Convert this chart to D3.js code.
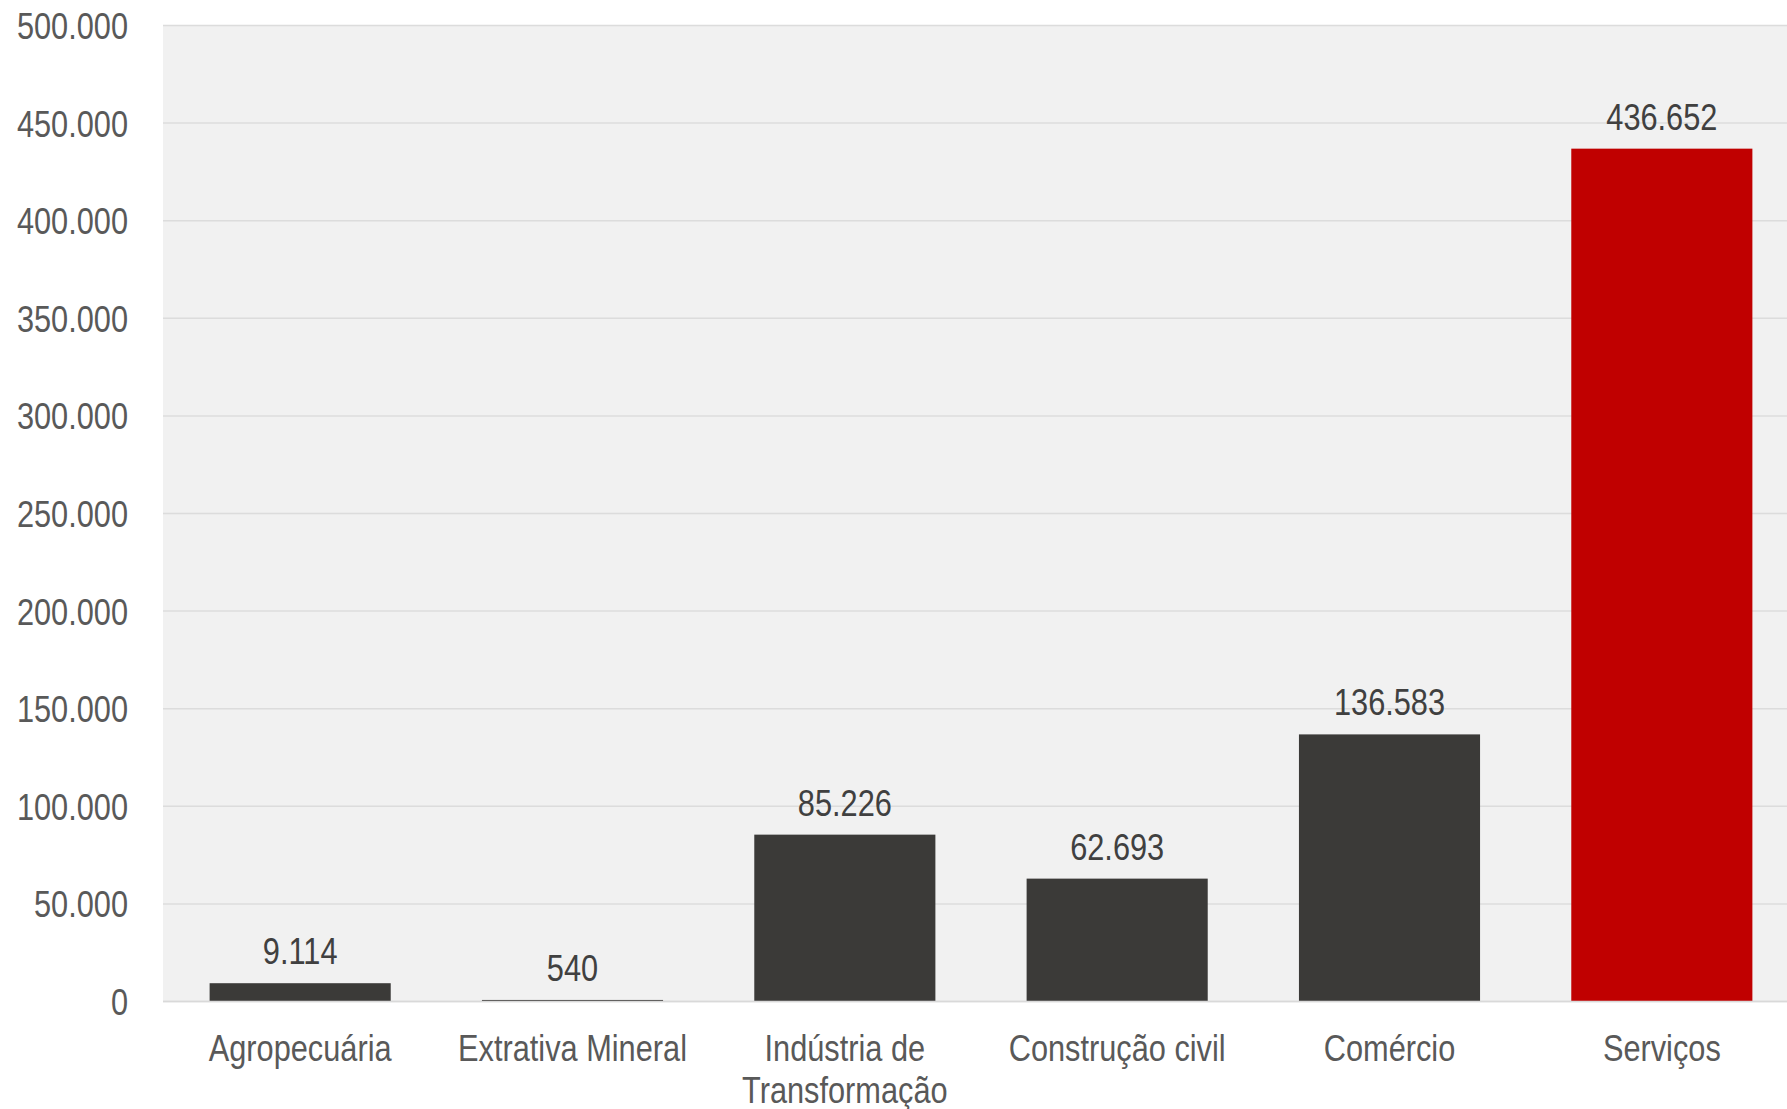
<!DOCTYPE html>
<html>
<head>
<meta charset="utf-8">
<script src="https://cdn.jsdelivr.net/npm/d3@7"></script>
<style>
  html, body { margin: 0; padding: 0; background: #ffffff; overflow: hidden; }
  svg { display: block; }
  text { font-family: "Liberation Sans", Arial, sans-serif; }
</style>
</head>
<body>
<svg id="chart" width="1787" height="1109"></svg>
<script>
// Empregos por setor
const categories = ["Agropecuária", "Extrativa Mineral", "Indústria de\nTransformação", "Construção civil", "Comércio", "Serviços"];
const values = [9114, 540, 85226, 62693, 136583, 436652];
const highlight = ["Serviços"];
const yTicks = [0, 50000, 100000, 150000, 200000, 250000, 300000, 350000, 400000, 450000, 500000];

const W = 1787, H = 1109;
const margin = { top: 25, right: 0, bottom: 108, left: 163 };
const innerW = W - margin.left - margin.right;
const innerH = H - margin.top - margin.bottom;
// the category bands run slightly past the right edge of the frame
const bandSpan = 1634;
// narrow face: regular sans squeezed horizontally
const NARROW = 0.82;
const FS = 37.5;

const svg = d3.select("#chart");
const g = svg.append("g").attr("transform", `translate(${margin.left},${margin.top})`);

const x = d3.scaleBand().domain(categories).range([1, 1 + bandSpan]).paddingInner(0.335).paddingOuter(0.1675);
const y = d3.scaleLinear().domain([0, 500000]).range([innerH, 0]);

const fmt = d3.formatLocale({ decimal: ",", thousands: ".", grouping: [3], currency: ["R$", ""] }).format(",.0f");

// plot background
g.append("rect").attr("x", 0).attr("y", 0).attr("width", innerW).attr("height", innerH).attr("fill", "#f1f1f1");

// gridlines
g.append("g").selectAll("line").data(yTicks).join("line")
  .attr("x1", 0).attr("x2", innerW)
  .attr("y1", d => y(d) + 0.5).attr("y2", d => y(d) + 0.5)
  .attr("stroke", "#dcdcdc").attr("stroke-width", 1.5);

// y axis
const yAxis = g.append("g").call(d3.axisLeft(y).tickValues(yTicks).tickFormat(fmt).tickSize(0).tickPadding(35));
yAxis.select(".domain").remove();
yAxis.selectAll("text")
  .attr("font-size", FS).attr("fill", "#595959").attr("dy", "0.36em")
  .attr("font-family", "Liberation Sans, Arial, sans-serif")
  .attr("x", -35 / NARROW)
  .attr("transform", `scale(${NARROW},1)`);

// bars
g.append("g").selectAll("rect").data(categories).join("rect")
  .attr("x", d => x(d))
  .attr("width", x.bandwidth())
  .attr("y", (d, i) => y(values[i]))
  .attr("height", (d, i) => innerH - y(values[i]))
  .attr("fill", d => highlight.includes(d) ? "#c00000" : "#3b3a38");

// value labels
g.append("g").selectAll("text").data(categories).join("text")
  .attr("transform", (d, i) => `translate(${x(d) + x.bandwidth() / 2},${y(values[i]) - 19}) scale(${NARROW},1)`)
  .attr("text-anchor", "middle")
  .attr("font-size", FS).attr("fill", "#404040")
  .text((d, i) => fmt(values[i]));

// x axis
const xAxis = g.append("g").attr("transform", `translate(0,${innerH})`)
  .call(d3.axisBottom(x).tickSize(0).tickFormat(""));
xAxis.select(".domain").remove();
g.append("line").attr("x1", 0).attr("x2", innerW).attr("y1", innerH + 0.5).attr("y2", innerH + 0.5)
  .attr("stroke", "#d9d9d9").attr("stroke-width", 1.5);

xAxis.selectAll(".tick").each(function(d) {
  const t = d3.select(this).append("text")
    .attr("text-anchor", "middle").attr("font-size", FS).attr("fill", "#595959")
    .attr("font-family", "Liberation Sans, Arial, sans-serif")
    .attr("transform", `scale(${NARROW},1)`);
  d.split("\n").forEach((line, k) => {
    t.append("tspan").attr("x", 0).attr("y", 60 + k * 42).text(line);
  });
});
</script>
</body>
</html>
